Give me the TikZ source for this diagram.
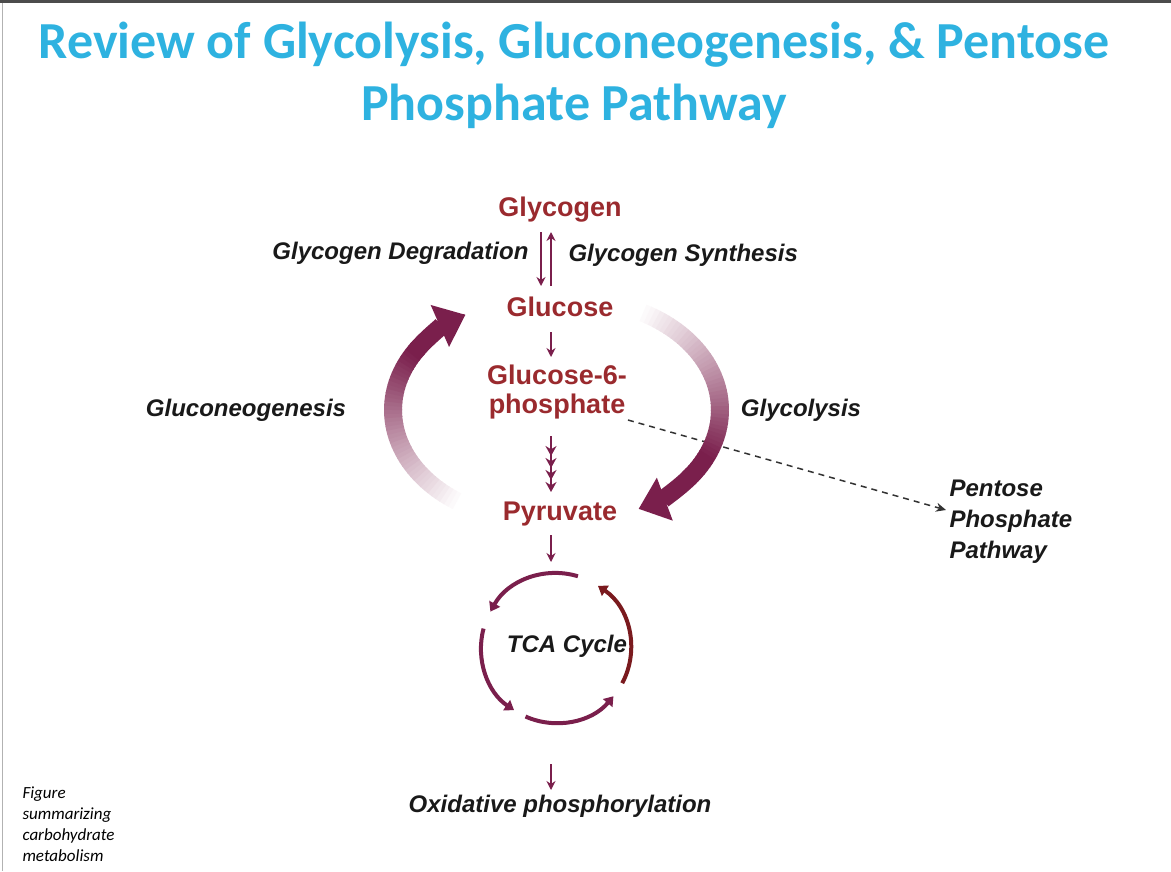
\documentclass[tikz,border=0pt]{standalone}
\usepackage{fontspec}
\setmainfont{Liberation Sans}
\newfontfamily\titlefont{Carlito}
\usetikzlibrary{arrows.meta, positioning}
\definecolor{titleblue}{HTML}{2EB2E0}
\definecolor{metred}{HTML}{9A2A2E}
\definecolor{cycpurple}{HTML}{7A1F4C}
\definecolor{cycred}{HTML}{7A1A1E}
\begin{document}
\begin{tikzpicture}[x=1pt, y=-1pt,
	met/.style={font=\fontsize{27}{29}\selectfont\bfseries, text=metred, align=center, inner sep=1pt},
	lab/.style={font=\fontsize{24}{28}\selectfont\bfseries\itshape, text=black!90},
	thin arrow/.style={draw=cycpurple, line width=1.6pt, -{Stealth[length=9pt,width=9pt]}},
	cyc/.style={draw=cycpurple, line width=4pt, -{Triangle[length=9pt,width=12pt]}}]
	\useasboundingbox (0,0) rectangle (1171,871);
	\fill[black!70] (0,0) rectangle (1171,3);
	\draw[black!30] (2,3) -- (2,871);

	\node[font=\titlefont\fontsize{52}{62}\selectfont\bfseries, text=titleblue, align=center] (title) at (574,75) {Review of Glycolysis, Gluconeogenesis, \& Pentose\\Phosphate Pathway};

	% metabolites
	\node[met] (glycogen) at (560,210) {Glycogen};
	\node[met] (glucose) at (560,307) {Glucose};
	\node[met] (g6p) at (557,392) {Glucose-6-\\phosphate};
	\node[met] (pyruvate) at (560,514) {Pyruvate};
	\node[lab, font=\fontsize{24}{28}\selectfont\bfseries\itshape] (tca) at (567,646) {TCA Cycle};
	\node[lab, font=\fontsize{24}{28}\selectfont\bfseries\itshape] (oxphos) at (560,806) {Oxidative phosphorylation};
	\node[lab, font=\fontsize{24}{31}\selectfont\bfseries\itshape, align=left, anchor=west] (ppp) at (946,522) {Pentose\\Phosphate\\Pathway};

	% pathway labels
	\node[lab, anchor=east] (degr) at (532,253) {Glycogen Degradation};
	\node[lab, anchor=west] (synth) at (565,255) {Glycogen Synthesis};
	\node[lab] (gng) at (246,410) {Gluconeogenesis};
	\node[lab] (glyc) at (801,410) {Glycolysis};

	% small connectors
	\coordinate (gA) at (541,232);
	\coordinate (gB) at (541,286);
	\coordinate (uA) at (551,332);
	\coordinate (uB) at (551,357);
	\coordinate (mA) at (551,436);
	\coordinate (mB) at (551,492);
	\coordinate (pA) at (551,535);
	\coordinate (tcaTop) at (551,562);
	\coordinate (tcaBot) at (551,764);
	\coordinate (oB) at (551,790);
	\draw[thin arrow] (gA) -- (gB);
	\draw[thin arrow] ([xshift=10pt]gB) -- ([xshift=10pt]gA);
	\draw[thin arrow] (uA) -- (uB);
	\draw[draw=cycpurple, line width=1.6pt, -{Stealth[length=10pt,width=11pt,sep=2pt]Stealth[length=10pt,width=11pt,sep=2pt]Stealth[length=10pt,width=11pt,sep=2pt]Stealth[length=10pt,width=11pt]}] (mA) -- (mB);
	\draw[thin arrow] (pA) -- (tcaTop);
	\draw[thin arrow] (tcaBot) -- (oB);
	\draw[black!80, line width=1.5pt, dash pattern=on 6pt off 5pt, -{Stealth[length=10pt,width=9pt]}] (g6p.east |- 0,420) -- (ppp.west |- 0,510);

	% TCA cycle
	\coordinate (tc) at (556,648);
	\foreach \s/\e/\c in {-73/-151/cycpurple, -165/-236/cycpurple, -246/-320/cycpurple}
		\draw[cyc, draw=\c] (tc) ++(\s:75) arc[start angle=\s, end angle=\e, radius=75];
	\draw[cyc, draw=cycred] (tc) ++(28:75) arc[start angle=28, end angle=-56, radius=75];

	% big curved arrows
	\coordinate (cr) at (575,410);
	\coordinate (cl) at (538,410);
	\foreach \a [evaluate=\a as \op using {int(min(100,(\a+64)*1.15))}] in {-64,-62,...,36}
		\draw[cycpurple!\op!white, line width=18pt] (cr) ++(\a:145 and 110) arc[start angle=\a, end angle=\a+2.4, x radius=145, y radius=110];
	\draw[cycpurple, line width=18pt, -{Triangle[length=28pt,width=44pt]}] (cr) ++(37:145 and 110) arc[start angle=37, end angle=64, x radius=145, y radius=110];
	\foreach \a [evaluate=\a as \op using {int(min(100,(\a-122)*1.15))}] in {122,124,...,212}
		\draw[cycpurple!\op!white, line width=18pt] (cl) ++(\a:145 and 110) arc[start angle=\a, end angle=\a+2.4, x radius=145, y radius=110];
	\draw[cycpurple, line width=18pt, -{Triangle[length=28pt,width=44pt]}] (cl) ++(213:145 and 110) arc[start angle=213, end angle=240, x radius=145, y radius=110];

	\node[font=\titlefont\itshape\fontsize{17}{21}\selectfont, align=left, anchor=north west] (caption) at (19,783) {Figure\\summarizing\\carbohydrate\\metabolism};
\end{tikzpicture}
\end{document}
